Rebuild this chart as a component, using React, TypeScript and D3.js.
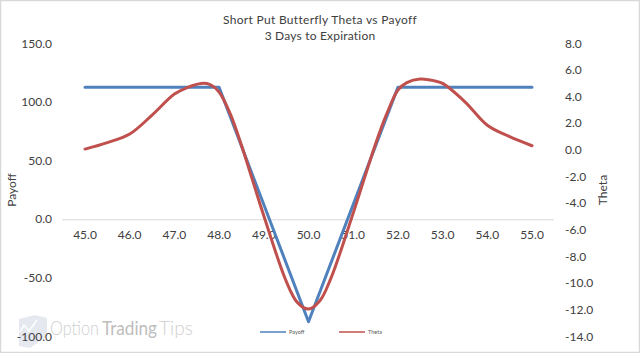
import React from "react";
import * as d3 from "d3";

const leftTicks = [150, 100, 50, 0, -50, -100];
const rightTicks = [8, 6, 4, 2, 0, -2, -4, -6, -8, -10, -12, -14];
const strikes = [45, 46, 47, 48, 49, 50, 51, 52, 53, 54, 55];
const payoffX = [45, 48, 50, 52, 55];
const payoffY = [113, 113, -87, 113, 113];
const thetaX = [45, 45.5, 46, 46.5, 47, 47.3, 47.6, 47.8, 48, 48.25, 48.5, 49, 49.5, 49.75, 50, 50.25, 50.5, 51, 51.5, 51.75, 52, 52.2, 52.5, 52.8, 53, 53.5, 54, 54.5, 55];
const thetaY = [0.11, 0.6, 1.24, 2.66, 4.24, 4.75, 5.04, 4.95, 4.4, 2.75, 0.4, -4.9, -9.8, -11.4, -11.9, -11.3, -9.6, -4.7, 0.5, 2.75, 4.54, 5.1, 5.37, 5.25, 5.04, 3.66, 1.9, 1.04, 0.36];

const W = 640, H = 353;
const x = d3.scaleLinear().domain([45, 55]).range([85, 532]);
const yL = d3.scaleLinear().domain([-100, 150]).range([337, 44]);
const yR = d3.scaleLinear().domain([-14, 8]).range([337, 44]);
const font = "Lato, 'Open Sans', sans-serif";
const txt = "#404040";

const payoffLine = d3.line<number>().x((d) => x(d)).y((_, i) => yL(payoffY[i]));
const thetaLine = d3
  .line<number>()
  .x((d) => x(d))
  .y((_, i) => yR(thetaY[i]))
  .curve(d3.curveCatmullRom.alpha(0.5));

export default function App() {
  return (
    <svg
      width={W}
      height={H}
      viewBox={`0 0 ${W} ${H}`}
      style={{ position: "fixed", left: 0, top: 0, background: "#fff", fontFamily: font }}
    >
      <rect x={0.5} y={0.5} width={W - 1} height={H - 1} fill="#fff" stroke="#d9d9d9" strokeWidth={1.5} />

      {/* watermark */}
      <g>
        <path d="M19 319 L19 346 L30 348 L47 336 L47 318 L35 315 Z" fill="#e6e8f0" />
        <path d="M20 332 L24 325 L29 331 L37 320" fill="none" stroke="#fff" strokeWidth={1.5} />
        <text x={50} y={335} fontSize={19} fontWeight={300} fill="#cfcfcf" textLength={49} lengthAdjust="spacingAndGlyphs">Option</text>
        <text x={102} y={335} fontSize={19} fontWeight={400} fill="#bdbdbd" textLength={55} lengthAdjust="spacingAndGlyphs">Trading</text>
        <text x={159} y={335} fontSize={19} fontWeight={300} fill="#cfcfcf" textLength={34} lengthAdjust="spacingAndGlyphs">Tips</text>
      </g>

      <text x={320} y={24} textAnchor="middle" fontSize={12} fill={txt} letterSpacing={0.3}>Short Put Butterfly Theta vs Payoff</text>
      <text x={320} y={40} textAnchor="middle" fontSize={12} fill={txt} letterSpacing={0.2}>3 Days to Expiration</text>

      <line x1={62} x2={554} y1={yL(0)} y2={yL(0)} stroke="#d9d9d9" strokeWidth={1} />

      {leftTicks.map((t) => (
        <text key={t} x={52} y={yL(t) + 3.5} textAnchor="end" fontSize={12} fill={txt}>{t.toFixed(1)}</text>
      ))}
      {rightTicks.map((t) => (
        <text key={t} x={565} y={yR(t) + 3.5} fontSize={12} fill={txt}>{t.toFixed(1)}</text>
      ))}
      {strikes.map((s) => (
        <text key={s} x={x(s)} y={239} textAnchor="middle" fontSize={12} fill={txt}>{s.toFixed(1)}</text>
      ))}

      <text transform="translate(16,190) rotate(-90)" textAnchor="middle" fontSize={12} fill={txt}>Payoff</text>
      <text transform="translate(607,190) rotate(-90)" textAnchor="middle" fontSize={12} fill={txt}>Theta</text>

      <path d={payoffLine(payoffX) ?? ""} fill="none" stroke="#4f81bd" strokeWidth={3} strokeLinecap="round" strokeLinejoin="round" />
      <path d={thetaLine(thetaX) ?? ""} fill="none" stroke="#c0504d" strokeWidth={3} strokeLinecap="round" strokeLinejoin="round" />

      <line x1={260} x2={286} y1={332} y2={332} stroke="#4f81bd" strokeWidth={1.5} />
      <text x={289} y={334} fontSize={5.5} fill="#595959">Payoff</text>
      <line x1={339} x2={365} y1={332} y2={332} stroke="#c0504d" strokeWidth={1.5} />
      <text x={368} y={334} fontSize={5.5} fill="#595959">Theta</text>
    </svg>
  );
}
